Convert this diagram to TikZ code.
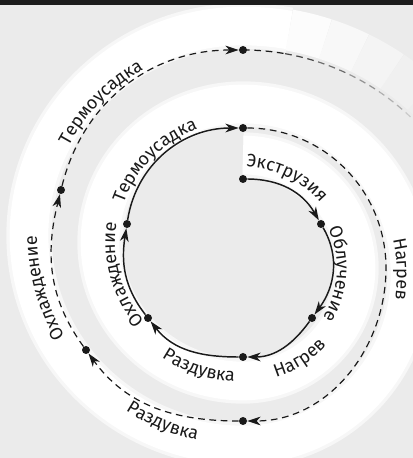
\documentclass[tikz,border=0pt]{standalone}
\usepackage{fontspec}
\setmainfont{Fira Sans}
\usetikzlibrary{arrows.meta,decorations.text}
\definecolor{bg}{HTML}{EBEBEB}
\definecolor{topbar}{HTML}{1C1C1C}
\definecolor{ink}{HTML}{1A1A1A}
\newcommand\lblfont{\fontsize{13.5}{15}\selectfont}
\begin{document}
\begin{tikzpicture}[x=0.75pt,y=0.75pt,
  dot/.style={circle,fill=ink,inner sep=0pt,minimum size=6pt},
  tipA/.style={-{Stealth[length=10pt,width=6.5pt,inset=3pt]}},
  solidconn/.style={draw=ink,line width=1.1pt,tipA},
  dashconn/.style={draw=ink,line width=0.9pt,dash pattern=on 5pt off 3.5pt,tipA},
  tailseg/.style={line width=0.9pt,dash pattern=on 5pt off 3.5pt},
  bandsoft/.style={draw=white!60!bg,line width=34pt},
  bandcore/.style={draw=white,line width=29pt},
  lbl/.style={decorate,decoration={text along path,text align=center,text color=ink,text={|\lblfont|#1}}},
]
\useasboundingbox (0,0) rectangle (413,458);
\fill[bg] (0,0) rectangle (413,458);
% centres of the spiral arcs
\coordinate (O1) at (243,190);
\coordinate (O2) at (243,215.5);
\coordinate (O3) at (243,183.5);
\coordinate (O4) at (243,222.5);
\coordinate (O5) at (243,165);
\begin{scope}
\clip (0,0) rectangle (413,453);
% white spiral band
\foreach \st in {bandsoft,bandcore}{
\draw[\st,line cap=butt]
  (243,303) arc[start angle=90,end angle=-90,radius=113]
  arc[start angle=-90,end angle=-270,x radius=143,y radius=138.5]
  arc[start angle=90,end angle=-90,x radius=167,y radius=170.5]
  arc[start angle=-90,end angle=-270,x radius=214,y radius=209.5]
  arc[start angle=90,end angle=80,radius=267];
}
\foreach \a/\b/\p in {80/72/85,72/64/65,64/56/45,56/48/25,48/40/10}{
  \draw[line width=31pt,draw=white!\p!bg] (O5) ++(\a:267) arc[start angle=\a,end angle=\b,radius=267];
}
\end{scope}
\fill[topbar] (0,453) rectangle (413,458);

% dots
\node[dot] (S) at (243,279) {};
\node[dot] (A) at (321,234) {};
\node[dot] (B) at (312,140) {};
\node[dot] (C) at (243,101) {};
\node[dot] (D) at (148,140) {};
\node[dot] (E) at (127,234) {};
\node[dot] (F) at (243,330) {};
\node[dot] (G) at (243,37) {};
\node[dot] (H) at (86,108) {};
\node[dot] (I) at (61,268) {};
\node[dot] (J) at (243,408) {};
\coordinate (Rr) at (386,190);

% inner turn
\draw[solidconn] (S) to[out=0,in=120] (A);
\draw[solidconn] (A) to[out=-60,in=54] (B);
\draw[solidconn] (B) to[out=-126,in=0] (C);
\draw[solidconn] (C) to[out=180,in=-52] (D);
\draw[solidconn] (D) to[out=128,in=-99] (E);
\draw[solidconn] (E) to[out=81,in=180] (F);
% outer turn
\draw[dashconn] (F) to[out=0,in=90] (Rr) to[out=-90,in=0] (G);
\draw[dashconn] (G) to[out=180,in=-54] (H);
\draw[dashconn] (H) to[out=126,in=-104] (I);
\draw[dashconn] (I) to[out=76,in=180] (J);
% fading tail
\begin{scope}
\clip (0,0) rectangle (413,453);
\foreach \a/\b/\c in {90/80/100,80/72/80,72/64/60,64/56/42,56/48/28,48/38/16}{
  \draw[tailseg,draw=ink!\c!bg] (O5) ++(\a:243) arc[start angle=\a,end angle=\b,radius=243];
}
\end{scope}

% labels
\path[lbl={Экструзия}] (O1) ++(106:101) arc[start angle=106,end angle=22,radius=101];
\path[lbl={Облучение}] (O1) ++(42:94) arc[start angle=42,end angle=-49,radius=94];
\path[lbl={Нагрев}] (O1) ++(-97:114) arc[start angle=-97,end angle=-19,radius=114];
\path[lbl={Раздувка}] (O2) ++(-143:144 and 139.5) arc[start angle=-143,end angle=-75,x radius=144,y radius=139.5];
\path[lbl={Охлаждение}] (O2) ++(244:128 and 123.5) arc[start angle=244,end angle=146,x radius=128,y radius=123.5];
\path[lbl={Термоусадка}] (O2) ++(185:126 and 121.5) arc[start angle=185,end angle=88,x radius=126,y radius=121.5];
\path[lbl={Нагрев}] (O3) ++(42:154 and 157.5) arc[start angle=42,end angle=-38,x radius=154,y radius=157.5];
\path[lbl={Раздувка}] (O4) ++(-147:214 and 209.5) arc[start angle=-147,end angle=-79,x radius=214,y radius=209.5];
\path[lbl={Охлаждение}] (O4) ++(242:206 and 201.5) arc[start angle=242,end angle=148,x radius=206,y radius=201.5];
\path[lbl={Термоусадка}] (O4) ++(175:197 and 192.5) arc[start angle=175,end angle=98,x radius=197,y radius=192.5];
\end{tikzpicture}
\end{document}
